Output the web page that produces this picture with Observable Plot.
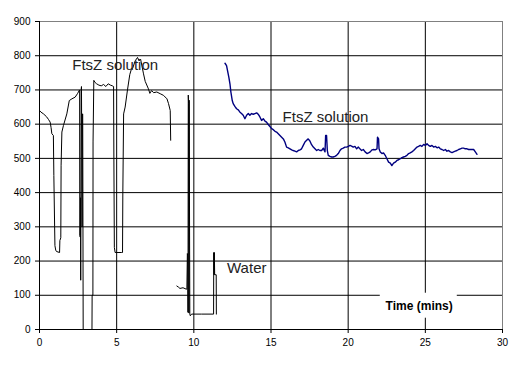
<!DOCTYPE html>
<html>
<head>
<meta charset="utf-8">
<script src="https://cdn.jsdelivr.net/npm/d3@7"></script>
<script src="https://cdn.jsdelivr.net/npm/@observablehq/plot@0.6"></script>
<style>
  html, body { margin: 0; padding: 0; background: #fff; }
  #chart svg { display: block; overflow: visible; }
</style>
</head>
<body>
<div id="chart"></div>
<script>
// ---- Data ----
// Black trace (first run); null marks a gap in the recording
const blackTime = [
  0.00, 0.10, 0.26, 0.45, 0.58, 0.69, 0.75, 0.80, 0.90, 0.93, 0.98, 1.00, 1.05, 1.10, 1.30, 1.32, 1.38, 1.40, 1.45, 1.55, 1.77, 1.93, 2.10, 2.31, 2.46, 2.57,
  2.60, 2.61, 2.64, 2.66, 2.67, 2.70, 2.72, 2.76, 2.78, 2.80, 2.83, 3.40, 3.41, 3.46, 3.47, 3.52,
  3.60, 3.70, 3.85, 4.00, 4.15, 4.30, 4.45, 4.60, 4.72, 4.80, 4.82, 4.85, 4.90, 5.30, 5.38, 5.40, 5.45, 5.55, 5.70, 5.85, 5.95, 6.05, 6.20, 6.35, 6.45, 6.55, 6.74, 6.85, 7.06, 7.15, 7.26, 7.40, 7.60, 7.82, 8.04, 8.26, 8.36, 8.47, 8.50,
  8.70,
  8.90, 9.00, 9.10, 9.30, 9.50, 9.55, 9.58, 9.60, 9.62, 9.64, 9.66, 9.68, 9.70, 9.74, 9.77, 9.85, 10.50, 11.28, 11.29, 11.31, 11.33, 11.35, 11.45, 11.46
];
const blackSignal = [
  640, 635, 630, 622, 614, 606, 590, 572, 567, 450, 300, 245, 232, 228, 225, 260, 268, 480, 577, 596, 630, 669, 674, 679, 689, 698,
  700, 275, 270, 385, 144, 700, 710, 300, 630, 630, 0, 0, 100, 100, 548, 728,
  722, 718, 714, 712, 716, 710, 718, 714, 712, 710, 500, 240, 225, 225, 225, 400, 630, 650, 700, 745, 760, 765, 785, 795, 785, 790, 747, 725, 703, 690, 698, 692, 694, 689, 684, 674, 660, 640, 553,
  null,
  127, 124, 120, 122, 118, 118, 222, 215, 50, 685, 660, 48, 670, 45, 40, 45, 45, 45, 225, 160, 225, 160, 160, 45
];

// Blue trace (second run)
const blueTime = [
  12.02, 12.12, 12.18, 12.27, 12.34, 12.40, 12.49, 12.55, 12.66, 12.77, 12.88, 12.99, 13.09, 13.20, 13.31, 13.42, 13.53, 13.63, 13.74, 13.85, 13.96, 14.07, 14.17, 14.28, 14.39, 14.50, 14.61, 14.71, 14.82, 14.93,
  15.04, 15.15, 15.26, 15.36, 15.47, 15.58, 15.69, 15.80, 15.90, 16.01, 16.12, 16.23, 16.34, 16.44, 16.55, 16.66, 16.77, 16.88, 16.98, 17.09, 17.20, 17.31, 17.41, 17.52, 17.63, 17.74, 17.85, 17.96,
  18.06, 18.17, 18.28, 18.39, 18.45, 18.50, 18.54, 18.60, 18.65, 18.71, 18.82, 18.93, 19.03, 19.14, 19.25, 19.36, 19.47, 19.57, 19.68, 19.79, 19.90, 20.01, 20.12, 20.22, 20.33, 20.44, 20.55, 20.66, 20.76, 20.87, 20.98,
  21.10, 21.22, 21.32, 21.43, 21.54, 21.65, 21.75, 21.87, 21.90, 21.97, 22.00, 22.08, 22.19, 22.29, 22.40, 22.51, 22.62, 22.73, 22.83, 22.94, 23.05, 23.16, 23.27, 23.38, 23.48, 23.59, 23.70, 23.81, 23.92,
  24.02, 24.13, 24.24, 24.35, 24.46, 24.56, 24.67, 24.78, 24.89, 25.00, 25.11, 25.21, 25.32, 25.43, 25.54, 25.65, 25.76, 25.86, 25.97, 26.08, 26.19, 26.30, 26.40, 26.51, 26.62, 26.73, 26.83, 26.94,
  27.05, 27.16, 27.27, 27.38, 27.48, 27.59, 27.70, 27.81, 27.91, 28.02, 28.13, 28.24, 28.35
];
const blueSignal = [
  778, 771, 757, 737, 718, 694, 669, 660, 652, 645, 642, 635, 631, 626, 616, 626, 631, 626, 631, 629, 631, 633, 629, 621, 611, 616, 609, 606, 599, 593,
  587, 584, 579, 577, 572, 567, 562, 557, 548, 533, 531, 528, 525, 523, 521, 519, 523, 525, 528, 538, 548, 553, 557, 551, 540, 533, 528, 523,
  526, 523, 523, 530, 523, 519, 567, 567, 523, 509, 506, 504, 504, 506, 509, 514, 523, 528, 530, 533, 533, 535, 538, 536, 533, 535, 528, 533, 528, 523, 526,
  519, 514, 516, 519, 525, 526, 525, 528, 562, 557, 528, 519, 514, 516, 509, 499, 489, 486, 479, 486, 489, 494, 496, 499, 502, 504, 506, 509, 514,
  516, 519, 523, 528, 533, 535, 538, 535, 541, 538, 543, 538, 535, 538, 533, 535, 531, 533, 528, 526, 523, 526, 521, 523, 519, 517, 519, 521,
  523, 526, 528, 530, 530, 528, 528, 526, 526, 526, 526, 519, 512
];

// Axis ticks
const xTicks = [0, 5, 10, 15, 20, 25, 30];
const yTicks = [0, 100, 200, 300, 400, 500, 600, 700, 800, 900];

// Annotations
const noteText = ["FtsZ solution", "FtsZ solution", "Water"];
const noteTime = [2.12, 15.75, 12.15];
const noteSignal = [757, 606, 164];

const axisTitle = "Time (mins)";
const axisTitleTime = 24.6;
const axisTitleSignal = 58;
const axisTitleBoxTime = [22.08, 27.07];
const axisTitleBoxSignal = [33, 106];

// ---- Build tables ----
const black = blackTime.map((t, i) => ({t, v: blackSignal[i]}));
const blue = blueTime.map((t, i) => ({t, v: blueSignal[i]}));
const notes = noteText.map((s, i) => ({s, t: noteTime[i], v: noteSignal[i]}));

const chart = Plot.plot({
  width: 521,
  height: 367,
  marginLeft: 39,
  marginRight: 19,
  marginTop: 21,
  marginBottom: 38,
  style: {fontFamily: "'Liberation Sans', Arial, sans-serif", background: "#fff", color: "#000"},
  x: {domain: [0, 30], ticks: xTicks},
  y: {domain: [0, 900], ticks: yTicks},
  marks: [
    Plot.gridY(yTicks.filter(d => d > 0 && d < 900), {stroke: "#000", strokeOpacity: 1, strokeWidth: 1}),
    Plot.gridX(xTicks.filter(d => d > 0 && d < 30), {stroke: "#000", strokeOpacity: 1, strokeWidth: 1}),
    Plot.ruleY([900], {stroke: "#808080"}),
    Plot.ruleX([30], {stroke: "#808080"}),
    Plot.rect([0], {x1: () => axisTitleBoxTime[0], x2: () => axisTitleBoxTime[1], y1: () => axisTitleBoxSignal[0], y2: () => axisTitleBoxSignal[1], fill: "#fff"}),
    Plot.ruleX([0], {stroke: "#000"}),
    Plot.ruleY([0], {stroke: "#000"}),
    Plot.axisY(yTicks, {tickSize: 4, tickPadding: 5, fontSize: 10, label: null, stroke: "#000"}),
    Plot.axisX(xTicks, {tickSize: 4, tickPadding: 5, fontSize: 10, label: null, stroke: "#000"}),
    Plot.line(black, {x: "t", y: "v", stroke: "#000", strokeWidth: 1, curve: "linear"}),
    Plot.line(blue, {x: "t", y: "v", stroke: "#000080", strokeWidth: 1.4, curve: "linear"}),
    Plot.text(notes, {x: "t", y: "v", text: "s", textAnchor: "start", lineAnchor: "bottom", fontSize: 15, fill: "#222"}),
    Plot.text([axisTitle], {x: () => axisTitleTime, y: () => axisTitleSignal, text: d => d, fontSize: 12, fontWeight: "bold", lineAnchor: "bottom", fill: "#000"})
  ]
});
document.getElementById("chart").appendChild(chart);
</script>
</body>
</html>
